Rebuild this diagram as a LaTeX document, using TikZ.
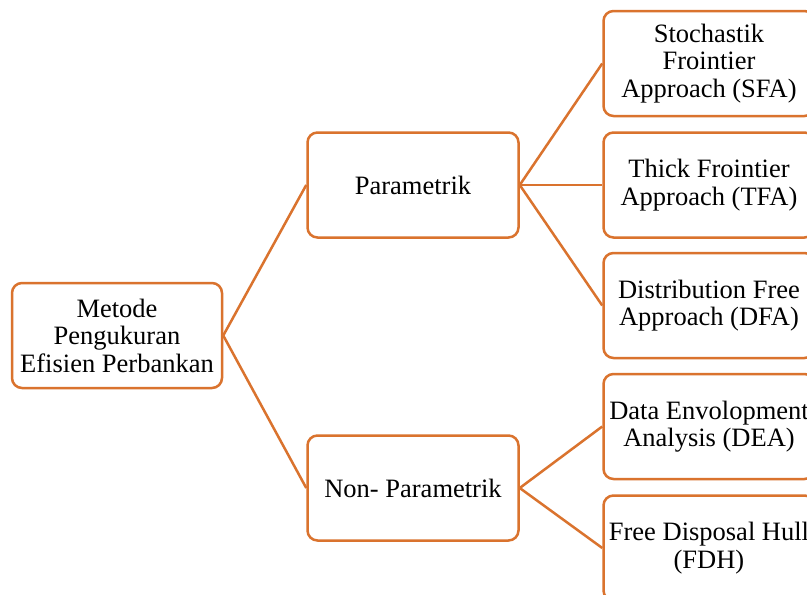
\documentclass[tikz,border=0pt]{standalone}
\usepackage{fontspec}
\setmainfont{Liberation Serif}
\definecolor{borange}{RGB}{218,115,46}
\begin{document}
\begin{tikzpicture}[x=1pt,y=-1pt,
  box/.style={draw=borange, line width=2.5pt, rounded corners=10pt, fill=white,
    minimum width=211pt, minimum height=105pt, inner sep=0pt, align=center,
    font=\fontsize{26.5}{27.5}\selectfont},
  link/.style={draw=borange, line width=2.5pt}]
\clip (0,0) rectangle (807,595);
\fill[white] (0,0) rectangle (807,595);
\node[box, minimum width=210pt] (root) at (117,335.5) {Metode\\Pengukuran\\Efisien Perbankan};
\node[box] (par) at (413,185) {Parametrik};
\node[box] (non) at (413,488) {Non- Parametrik};
\node[box] (sfa) at (709,63.5) {Stochastik\\Frointier\\Approach (SFA)};
\node[box] (tfa) at (709,185) {Thick Frointier\\Approach (TFA)};
\node[box] (dfa) at (709,305.5) {Distribution Free\\Approach (DFA)};
\node[box] (dea) at (709,426.5) {Data Envolopment\\Analysis (DEA)};
\node[box] (fdh) at (709,548) {Free Disposal Hull\\(FDH)};
\draw[link] (root.east) -- (par.west);
\draw[link] (root.east) -- (non.west);
\draw[link] (par.east) -- (sfa.west);
\draw[link] (par.east) -- (tfa.west);
\draw[link] (par.east) -- (dfa.west);
\draw[link] (non.east) -- (dea.west);
\draw[link] (non.east) -- (fdh.west);
\end{tikzpicture}
\end{document}
